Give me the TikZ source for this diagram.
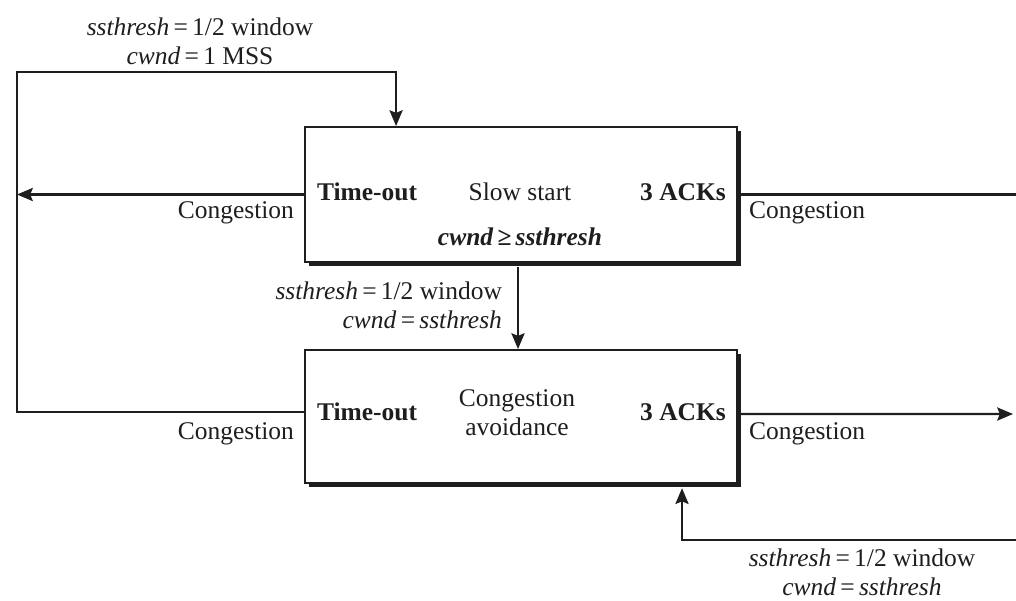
\documentclass[tikz,border=0pt]{standalone}
\usepackage{fontspec}
\setmainfont{Liberation Serif}
\usetikzlibrary{arrows.meta,shadows}
\definecolor{ink}{RGB}{30,30,30}
\begin{document}
\begin{tikzpicture}[x=0.02cm,y=-0.02cm,
  line width=1.2pt, draw=ink,
  every node/.style={font=\fontsize{14.5}{16.5}\selectfont, text=ink, inner sep=0pt},
  box/.style={draw=ink, fill=white, line width=1.1pt, minimum width=8.64cm,
    drop shadow={shadow xshift=2.4pt, shadow yshift=-2.4pt, fill=ink, opacity=1}},
  arr/.style={-{Stealth[length=9pt,width=7.5pt,inset=1.5pt]}},
  bold/.style={font=\fontsize{14.5}{16.5}\selectfont\bfseries}]
\useasboundingbox (0,0) rectangle (1016,600);

% state boxes
\node[box, minimum height=2.7cm] (ss) at (521,194.5) {};
\node[box, minimum height=2.66cm] (ca) at (521,416.5) {};

% texts inside boxes
\node[bold] (sto) at (367,192) {Time-out};
\node (sst) at (520,192) {Slow start};
\node[bold] (sack) at (683,192) {3 ACKs};
\node[bold] (scond) at (520,237) {\textit{cwnd\,≥\,ssthresh}};

\node[bold] (cto) at (367,412) {Time-out};
\node[align=center] (cst) at (517,413) {Congestion\\avoidance};
\node[bold] (cack) at (683,412) {3 ACKs};

% helper coordinates
\coordinate (lft) at (17,72);
\coordinate (rgt) at (1016,540);
\coordinate (rend) at (1013,414);
\coordinate (tin) at ([xshift=1.84cm]ss.north west);
\coordinate (bin) at ([xshift=7.56cm,yshift=-2.4pt]ca.south west);

% connectors
\draw[arr] ([yshift=0.09cm]ca.west) -- ([yshift=0.09cm]ca.west -| lft) -- (lft) -- (tin |- lft) -- (tin);
\draw[arr] (ss.west) -- (ss.west -| lft);
\draw (ss.east) -- (ss.east -| rgt);
\draw[arr] ([yshift=0.05cm]ca.east) -- (rend);
\draw[arr] (rgt) -- (bin |- rgt) -- (bin);
\draw[arr] ([xshift=-0.06cm,yshift=-2.4pt]ss.south) -- ([xshift=-0.06cm]ca.north);

% labels
\node[align=center] (toplab) at (200,41) {\textit{ssthresh}\,=\,1/2 window\\\textit{cwnd}\,=\,1 MSS};
\node[align=right, anchor=east] (midlab) at (503,305) {\textit{ssthresh}\,=\,1/2 window\\\textit{cwnd}\,=\,\textit{ssthresh}};
\node[align=center] (botlab) at (862,572) {\textit{ssthresh}\,=\,1/2 window\\\textit{cwnd}\,=\,\textit{ssthresh}};

\node[anchor=east] (lc1) at (295,213) {Congestion};
\node[anchor=west] (rc1) at (748,213) {Congestion};
\node[anchor=east] (lc2) at (295,434) {Congestion};
\node[anchor=west] (rc2) at (748,434) {Congestion};
\end{tikzpicture}
\end{document}
